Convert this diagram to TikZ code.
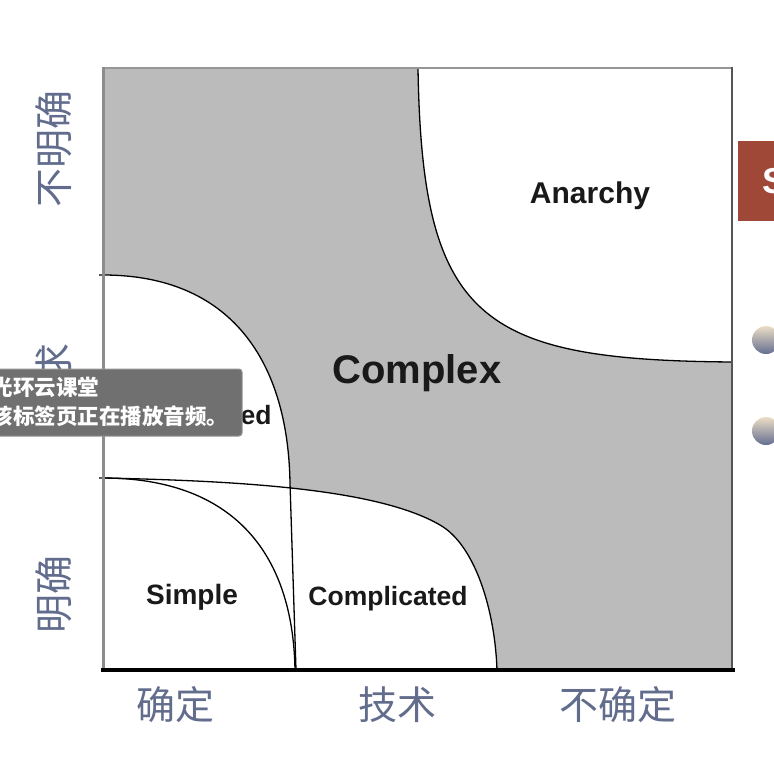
\documentclass[tikz,border=0pt]{standalone}
\usepackage{fontspec}
\setmainfont{Liberation Sans}
\newfontfamily\cjk{Noto Sans CJK SC}
\definecolor{regiongray}{RGB}{187,187,187}
\definecolor{axisblue}{RGB}{98,108,140}
\definecolor{tipgray}{RGB}{112,112,112}
\definecolor{tipedge}{RGB}{150,150,150}
\definecolor{slidered}{RGB}{160,72,56}
\definecolor{balltop}{RGB}{236,222,198}
\definecolor{ballbottom}{RGB}{100,110,145}
\definecolor{frameleft}{RGB}{140,140,140}
\definecolor{frametop}{RGB}{150,150,150}
\definecolor{frameright}{RGB}{85,85,85}
\tikzset{
  curve/.style={draw=black, line width=1.3pt},
  region/.style={font=\bfseries\fontsize{28}{32}\selectfont, text=black!90, inner sep=0pt},
  axislabel/.style={font=\cjk\fontsize{39}{44}\selectfont, text=axisblue, inner sep=0pt},
  tiptext/.style={font=\cjk\bfseries\fontsize{21.5}{24}\selectfont, text=white, inner sep=0pt, anchor=west},
}
\begin{document}
\begin{tikzpicture}[x=1pt,y=-1pt]
\useasboundingbox (0,0) rectangle (774,760);
\clip (0,0) rectangle (774,760);
\fill[white] (0,0) rectangle (774,760);
% grey field
\fill[regiongray] (103,68) rectangle (732,670);
% white regions
\fill[white] (418,68) .. controls (422,320) and (480,360) .. (732,362) -- (732,68) -- cycle;
\fill[white] (103,275) .. controls (230,275) and (288,360) .. (290,483) -- (296,670) -- (103,670) -- cycle;
\fill[white] (103,478) .. controls (250,481) and (380,490) .. (440,525) .. controls (475,545) and (495,610) .. (497,670) -- (103,670) -- cycle;
% boundary curves
\draw[curve] (418,68) .. controls (422,320) and (480,360) .. (732,362);
\draw[curve] (99,275) -- (103,275) .. controls (230,275) and (288,360) .. (290,483) -- (296,670);
\draw[curve] (99,478) -- (103,478) .. controls (250,481) and (380,490) .. (440,525) .. controls (475,545) and (495,610) .. (497,670);
\draw[curve] (103,478) .. controls (230,478) and (293,550) .. (295,670);
% frame
\draw[frametop, line width=2.5pt] (102,68) -- (732,68);
\draw[frameleft, line width=3pt] (103,67) -- (103,670);
\draw[frameright, line width=2.5pt] (732,67) -- (732,670);
\draw[black, line width=4.5pt] (101,670) -- (735,670);
% region labels
\node[region, font=\bfseries\fontsize{30}{34}\selectfont] (anarchy) at (590,196) {Anarchy};
\node[region, font=\bfseries\fontsize{40}{44}\selectfont] (complex) at (417,373) {Complex};
\node[region] (simple) at (192,597) {Simple};
\node[region, font=\bfseries\fontsize{26.5}{30}\selectfont] (complicatedtech) at (388,599) {Complicated};
\node[region, font=\bfseries\fontsize{26.5}{30}\selectfont] (complicatedreq) at (192,418) {Complicated};
% axis labels
\node[axislabel] (xlow) at (175,705) {确定};
\node[axislabel] (xmid) at (397,705) {技术};
\node[axislabel] (xhigh) at (618,705) {不确定};
\node[axislabel, rotate=90] (yhigh) at (54,149) {不明确};
\node[axislabel, rotate=90] (ymid) at (54,382) {需求};
\node[axislabel, rotate=90] (ylow) at (54,594) {明确};
% tooltip overlay
\filldraw[fill=tipgray, draw=tipedge, line width=1pt, rounded corners=3pt] (-10,369) rectangle (242,436);
\node[tiptext] (tipone) at (-8.5,387) {光环云课堂};
\node[tiptext] (tiptwo) at (-8.5,416) {该标签页正在播放音频。};
% right slide edge
\fill[slidered] (738,141) rectangle (780,221);
\node[font=\bfseries\fontsize{36}{40}\selectfont, text=white, inner sep=0pt, anchor=west] (slideS) at (762,181) {S};
\shade[top color=balltop, bottom color=ballbottom] (766,340) circle (14);
\shade[top color=balltop, bottom color=ballbottom] (766,431) circle (14);
\end{tikzpicture}
\end{document}
